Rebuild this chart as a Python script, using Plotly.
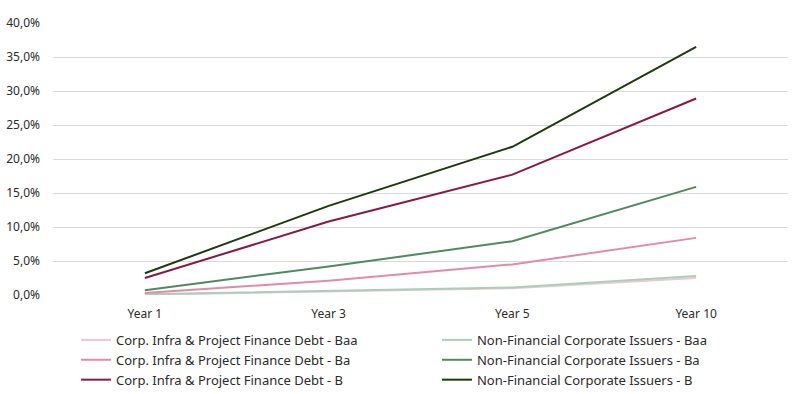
import plotly.graph_objects as go

categories = ["Year 1", "Year 3", "Year 5", "Year 10"]

corp_baa = [0.05, 0.5, 1.0, 2.5]
corp_ba = [0.3, 2.1, 4.5, 8.4]
corp_b = [2.5, 10.8, 17.7, 28.9]
nf_baa = [0.1, 0.6, 1.1, 2.8]
nf_ba = [0.7, 4.2, 7.9, 15.9]
nf_b = [3.2, 13.1, 21.8, 36.5]

corp_names = [
    "Corp. Infra & Project Finance Debt - Baa",
    "Corp. Infra & Project Finance Debt - Ba",
    "Corp. Infra & Project Finance Debt - B",
]
nf_names = [
    "Non-Financial Corporate Issuers - Baa",
    "Non-Financial Corporate Issuers - Ba",
    "Non-Financial Corporate Issuers - B",
]
corp_values = [corp_baa, corp_ba, corp_b]
nf_values = [nf_baa, nf_ba, nf_b]
corp_colors = ["#f1c6d3", "#e48aa6", "#8a1745"]
nf_colors = ["#a9d0b7", "#4f8a5f", "#1e3a0b"]

TEXT = "#2b2b2b"

fig = go.Figure()
for k in range(3):
    fig.add_trace(go.Scatter(
        x=categories, y=[v / 100 for v in corp_values[k]],
        name=corp_names[k], mode="lines",
        line=dict(color=corp_colors[k], width=2),
        legend="legend", legendgroup=f"c{k}",
    ))
    fig.add_trace(go.Scatter(
        x=categories, y=[v / 100 for v in nf_values[k]],
        name=nf_names[k], mode="lines",
        line=dict(color=nf_colors[k], width=2),
        legend="legend2", legendgroup=f"n{k}",
    ))

legend_common = dict(
    orientation="v",
    yanchor="top",
    xanchor="left",
    itemwidth=30,
    tracegroupgap=0,
    font=dict(family="Noto Sans", size=13, color=TEXT),
    bgcolor="rgba(0,0,0,0)",
    traceorder="grouped",
)

fig.update_layout(
    width=800,
    height=394,
    margin=dict(l=53, r=12, t=23, b=99, autoexpand=False),
    paper_bgcolor="white",
    plot_bgcolor="white",
    separators=",.",
    font=dict(family="Noto Sans", size=12, color=TEXT),
    xaxis=dict(
        type="category",
        range=[-0.5, 3.5],
        showgrid=False,
        showline=False,
        zeroline=False,
        ticks="",
        ticklabelstandoff=10,
        tickfont=dict(size=12, color=TEXT),
    ),
    yaxis=dict(
        range=[0, 0.4],
        dtick=0.05,
        tickformat=".1%",
        showgrid=True,
        gridcolor="#d9d9d9",
        gridwidth=1,
        zeroline=False,
        showline=False,
        ticks="",
        ticklabelstandoff=12,
        tickfont=dict(size=12, color=TEXT),
    ),
    legend=dict(legend_common, x=0.0313, y=-0.110),
    legend2=dict(legend_common, x=0.5224, y=-0.110),
    showlegend=True,
)

fig.write_html(
    "out.html",
    config={"displayModeBar": False},
    post_script="document.body.style.margin='0';document.body.style.overflow='hidden';",
)
